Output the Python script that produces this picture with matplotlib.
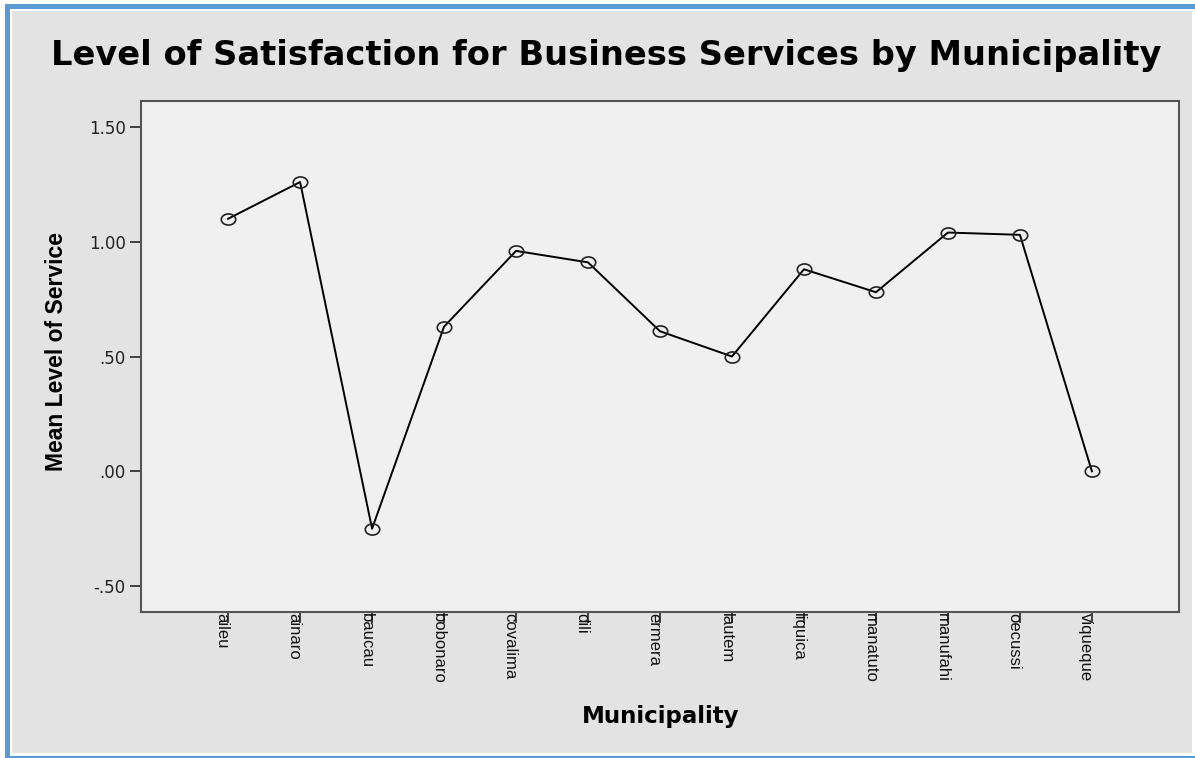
import matplotlib.pyplot as plt
from matplotlib.patches import Rectangle
from matplotlib.markers import MarkerStyle
from matplotlib.transforms import Affine2D, ScaledTranslation

# Municipios y nivel medio de servicio
municipios = ['aileu', 'ainaro', 'baucau', 'bobonaro', 'covalima', 'dili', 'ermera',
              'lautem', 'liquica', 'manatuto', 'manufahi', 'oecussi', 'viqueque']
nivel_medio = [1.10, 1.26, -0.25, 0.63, 0.96, 0.91, 0.61, 0.50, 0.88, 0.78, 1.04, 1.03, 0.00]
yticks = [-0.5, 0.0, 0.5, 1.0, 1.5]
ytick_labels = ['-.50', '.00', '.50', '1.00', '1.50']

plt.rcParams['font.family'] = ['Liberation Sans', 'DejaVu Sans']

W, H = 1195, 758
fig = plt.figure(figsize=(W / 100, H / 100), dpi=100, facecolor='white')


def caja(x0, y0, x1, y1, color):
    # rectangulo en pixeles (origen arriba a la izquierda)
    fig.patches.append(Rectangle((x0 / W, 1 - y1 / H), (x1 - x0) / W, (y1 - y0) / H,
                                 transform=fig.transFigure, facecolor=color,
                                 edgecolor='none', zorder=-10))


# marco gris con borde azul
caja(12, 11, 1192, 753, '#e3e3e3')
caja(5, 4, 10, 758, '#5b9bd5')
caja(5, 4, 1195, 9, '#5b9bd5')
caja(5, 756, 1195, 758, '#5b9bd5')

ax = fig.add_axes([141 / W, 1 - 612 / H, (1179 - 141) / W, (612 - 101) / H])
ax.set_facecolor('#f0f0f0')

circulo = MarkerStyle('o', fillstyle='none', transform=Affine2D().scale(1.3, 1.0))
x = range(len(municipios))
ax.plot(x, nivel_medio, color='black', lw=1.4, marker=circulo, markersize=8,
        markeredgecolor='#222222', markeredgewidth=1.2)

ax.set_xlim(-1.21, 13.21)
ax.set_ylim(-0.613, 1.613)
ax.set_xticks(list(x))
ax.set_xticklabels(municipios, rotation=-90, fontsize=12, va='top', ha='center', color='#111111')
ax.set_yticks(yticks)
ax.set_yticklabels(ytick_labels, fontsize=12, color='#222222', family='DejaVu Sans')
ax.tick_params(axis='both', length=8, width=1.3, color='#333333', pad=3)
ax.tick_params(axis='x', pad=-7)
for lbl in ax.get_xticklabels():
    lbl.set_transform(lbl.get_transform() + ScaledTranslation(-0.06, 0, fig.dpi_scale_trans))

for s in ax.spines.values():
    s.set_color('#555555')
    s.set_linewidth(1.5)

ax.set_ylabel('Mean Level of Service', fontsize=16.5, fontweight='bold')
ax.yaxis.set_label_coords(-0.0703, 0.509)
ax.set_xlabel('Municipality', fontsize=16.5, fontweight='bold', family='DejaVu Sans')
ax.xaxis.set_label_coords(0.5 + (661 - 660) / 1038, -0.182)
fig.text(606 / W, 1 - 65 / H, 'Level of Satisfaction for Business Services by Municipality',
         fontsize=24.2, fontweight='bold', family='DejaVu Sans', ha='center', va='baseline')

fig.savefig('out.png', dpi=100, facecolor=fig.get_facecolor())
